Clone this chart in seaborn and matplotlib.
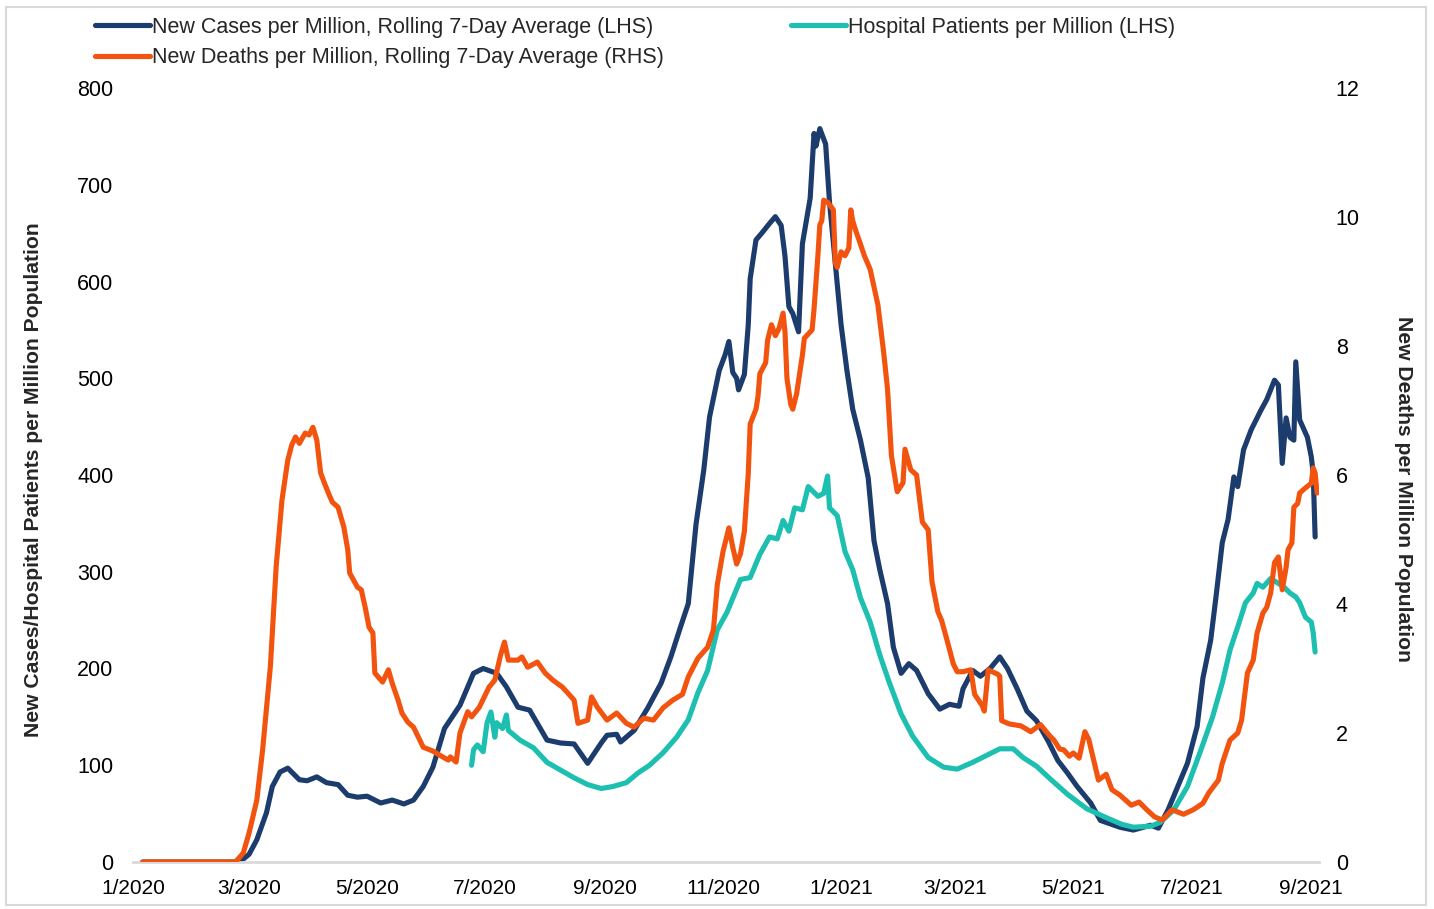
import numpy as np
import pandas as pd
import seaborn as sns
import matplotlib.pyplot as plt
import matplotlib.dates as mdates
from matplotlib.ticker import FuncFormatter, MultipleLocator
from matplotlib.patches import Rectangle

# --- dados ---
# dias contados a partir de 1/1/2020
inicio = pd.Timestamp('2020-01-01')

casos_dia = [5, 53, 57, 60, 64, 69, 72, 76, 80, 86,
             90, 95, 100, 106, 111, 116, 121, 128, 134, 140,
             145, 150, 155, 161, 165, 169, 176, 181, 188, 193,
             199, 205, 214, 221, 228, 235, 242, 245, 250, 252,
             259, 266, 273, 278, 283, 287, 291, 295, 298, 303,
             306, 308, 310, 312, 313, 316, 318, 319, 322, 325,
             329, 332, 335, 337, 339, 341, 344, 346, 350, 352,
             353, 355, 358, 360, 363, 366, 369, 372, 376, 380,
             383, 386, 390, 393, 397, 401, 405, 411, 417, 422,
             427, 429, 434, 438, 443, 448, 452, 457, 462, 467,
             473, 478, 483, 488, 495, 500, 510, 517, 526, 530,
             535, 540, 545, 550, 553, 557, 560, 563, 566, 569,
             571, 574, 578, 583, 586, 590, 592, 594, 596, 598,
             600, 601, 603, 607, 609, 610, 611]
casos = [0, 0, 3, 8, 23, 51, 78, 93, 97, 85,
         84, 88, 82, 80, 69, 67, 68, 61, 64, 60,
         64, 78, 98, 138, 150, 162, 195, 200, 195, 181,
         160, 157, 126, 123, 122, 102, 123, 131, 132, 124,
         136, 159, 185, 212, 243, 267, 349, 405, 460, 508,
         524, 538, 506, 500, 488, 504, 555, 603, 643, 650,
         660, 667, 658, 626, 574, 567, 548, 639, 686, 753,
         740, 758, 742, 682, 619, 555, 508, 468, 436, 397,
         332, 302, 267, 222, 195, 205, 198, 174, 158, 163,
         161, 179, 198, 192, 200, 212, 200, 179, 156, 146,
         125, 105, 92, 78, 61, 43, 36, 33, 38, 35,
         54, 78, 102, 140, 190, 229, 278, 330, 354, 398,
         388, 426, 447, 467, 478, 498, 493, 412, 459, 439,
         436, 517, 457, 439, 419, 402, 336]

hosp_dia = [175, 176, 178, 181, 183, 185, 187, 188, 191, 193,
            194, 200, 207, 214, 221, 228, 235, 242, 248, 255,
            261, 267, 274, 281, 287, 292, 297, 302, 307, 314,
            319, 324, 329, 333, 336, 339, 342, 346, 349, 354,
            357, 359, 360, 364, 368, 372, 376, 381, 386, 391,
            397, 403, 411, 419, 426, 434, 441, 448, 455, 460,
            467, 474, 483, 493, 504, 511, 517, 526, 531, 538,
            545, 552, 558, 563, 567, 571, 575, 579, 581, 584,
            588, 592, 595, 598, 601, 603, 606, 609, 610, 611]
hospital = [100, 116, 121, 114, 144, 155, 129, 144, 138, 152,
            136, 126, 118, 103, 95, 87, 80, 76, 78, 82,
            92, 100, 113, 129, 147, 175, 198, 240, 258, 292,
            294, 318, 336, 334, 353, 342, 366, 364, 388, 378,
            381, 399, 366, 358, 321, 302, 273, 248, 214, 185,
            153, 130, 108, 98, 96, 103, 110, 117, 117, 108,
            99, 86, 70, 55, 45, 39, 36, 37, 41, 54,
            78, 116, 150, 185, 219, 243, 268, 278, 288, 284,
            293, 288, 284, 278, 274, 268, 253, 248, 237, 217]

mortes_dia = [5, 53, 57, 60, 64, 67, 71, 74, 77, 80,
              82, 84, 86, 89, 91, 93, 95, 97, 99, 101,
              103, 106, 109, 111, 112, 116, 118, 120, 122, 124,
              125, 129, 132, 134, 137, 139, 142, 145, 150, 155,
              160, 163, 164, 167, 169, 173, 175, 179, 184, 187,
              190, 192, 194, 199, 201, 204, 209, 213, 217, 222,
              228, 230, 235, 237, 240, 245, 250, 255, 259, 264,
              269, 274, 279, 284, 287, 292, 297, 300, 302, 305,
              308, 310, 312, 314, 316, 318, 319, 322, 323, 324,
              327, 328, 330, 332, 334, 336, 337, 338, 340, 341,
              343, 346, 347, 351, 352, 354, 355, 356, 357, 359,
              362, 363, 364, 366, 368, 370, 371, 372, 374, 376,
              378, 381, 385, 388, 390, 392, 395, 398, 399, 402,
              405, 408, 411, 413, 416, 418, 421, 424, 426, 429,
              433, 435, 439, 440, 442, 447, 448, 449, 453, 459,
              464, 469, 474, 476, 479, 481, 484, 486, 489, 492,
              494, 499, 503, 506, 510, 516, 520, 524, 528, 532,
              537, 543, 548, 553, 556, 561, 563, 567, 571, 573,
              576, 579, 581, 584, 586, 588, 590, 592, 594, 596,
              597, 599, 600, 602, 603, 606, 609, 610, 611, 612]
mortes = [0, 0, 0.14, 0.45, 0.96, 1.74, 3.03, 4.58, 5.61, 6.23,
          6.46, 6.59, 6.49, 6.65, 6.62, 6.74, 6.54, 6.03, 5.87, 5.72,
          5.58, 5.50, 5.19, 4.84, 4.48, 4.26, 4.22, 3.95, 3.64, 3.55,
          2.93, 2.79, 2.98, 2.77, 2.51, 2.31, 2.17, 2.09, 1.78, 1.72,
          1.63, 1.58, 1.63, 1.55, 2.0, 2.33, 2.25, 2.40, 2.71, 2.82,
          3.21, 3.41, 3.13, 3.13, 3.18, 3.02, 3.10, 2.93, 2.82, 2.71,
          2.51, 2.15, 2.20, 2.56, 2.40, 2.20, 2.31, 2.15, 2.09, 2.23,
          2.20, 2.39, 2.51, 2.60, 2.87, 3.16, 3.33, 3.60, 4.3, 4.82,
          5.18, 4.88, 4.62, 4.78, 5.13, 6.02, 6.79, 7.02, 7.21, 7.57,
          7.74, 8.09, 8.33, 8.16, 8.28, 8.51, 8.22, 7.50, 7.09, 7.02,
          7.26, 7.86, 8.12, 8.25, 8.57, 9.40, 9.88, 9.94, 10.26, 10.23,
          10.11, 9.29, 9.22, 9.46, 9.40, 9.52, 10.11, 9.94, 9.75, 9.58,
          9.40, 9.19, 8.64, 7.9, 7.33, 6.3, 5.74, 5.88, 6.4, 6.08,
          6.00, 5.27, 5.15, 4.34, 3.88, 3.74, 3.41, 3.07, 2.95, 2.95,
          2.98, 2.60, 2.42, 2.34, 2.98, 2.91, 2.88, 2.19, 2.14, 2.11,
          2.02, 2.13, 1.95, 1.89, 1.75, 1.74, 1.64, 1.69, 1.61, 2.02,
          1.9, 1.27, 1.36, 1.12, 1.04, 0.88, 0.93, 0.81, 0.70, 0.65,
          0.81, 0.74, 0.81, 0.91, 1.07, 1.27, 1.53, 1.89, 2.00, 2.20,
          2.93, 3.13, 3.55, 3.86, 3.95, 4.17, 4.64, 4.73, 4.22, 4.57,
          4.84, 4.95, 5.50, 5.56, 5.72, 5.80, 5.87, 6.11, 6.03, 5.72]

rotulo_casos = 'New Cases per Million, Rolling 7-Day Average (LHS)'
rotulo_mortes = 'New Deaths per Million, Rolling 7-Day Average (RHS)'
rotulo_hosp = 'Hospital Patients per Million (LHS)'

df_casos = pd.DataFrame({'data': inicio + pd.to_timedelta(casos_dia, unit='D'), 'valor': casos})
df_hosp = pd.DataFrame({'data': inicio + pd.to_timedelta(hosp_dia, unit='D'), 'valor': hospital})
df_mortes = pd.DataFrame({'data': inicio + pd.to_timedelta(mortes_dia, unit='D'), 'valor': mortes})

# --- estilo ---
sns.set_theme(style='white')
plt.rcParams['font.family'] = ['Liberation Sans', 'DejaVu Sans']

cor_casos = '#1b3c6c'
cor_hosp = '#1cbfb0'
cor_mortes = '#f2540f'
cinza = '#d9d9d9'

fig, ax = plt.subplots(figsize=(14.34, 9.09), dpi=100)
ax.set_position([133 / 1434, 1 - 862 / 909, (1319 - 133) / 1434, (862 - 88) / 909])
ax2 = ax.twinx()
ax2.set_position(ax.get_position())

sns.lineplot(data=df_casos, x='data', y='valor', ax=ax, color=cor_casos, linewidth=3.7,
             estimator=None, label=rotulo_casos, legend=False)
sns.lineplot(data=df_hosp, x='data', y='valor', ax=ax, color=cor_hosp, linewidth=3.7,
             estimator=None, label=rotulo_hosp, legend=False)
sns.lineplot(data=df_mortes, x='data', y='valor', ax=ax2, color=cor_mortes, linewidth=3.7,
             estimator=None, label=rotulo_mortes, legend=False)

# eixos
ax.set_xlim(inicio, inicio + pd.Timedelta(days=613))
ax.set_ylim(0, 800)
ax2.set_ylim(0, 12)
ax.yaxis.set_major_locator(MultipleLocator(100))
ax2.yaxis.set_major_locator(MultipleLocator(2))
ax.xaxis.set_major_locator(mdates.MonthLocator(bymonth=[1, 3, 5, 7, 9, 11]))
ax.xaxis.set_major_formatter(FuncFormatter(lambda v, p: f"{mdates.num2date(v).month}/{mdates.num2date(v).year}"))

ax.set_xlabel('')
ax.set_ylabel('')
ax2.set_ylabel('')

for a in (ax, ax2):
    for lado in ['top', 'left', 'right', 'bottom']:
        a.spines[lado].set_visible(False)
    a.grid(False)
ax.spines['bottom'].set_visible(True)
ax.spines['bottom'].set_color(cinza)
ax.spines['bottom'].set_linewidth(2)

ax.tick_params(axis='x', length=0, pad=12, labelsize=15, labelcolor='black')
ax.tick_params(axis='y', length=0, pad=14, labelsize=15.5, labelcolor='black')
ax2.tick_params(axis='y', length=0, pad=12, labelsize=15.5, labelcolor='black')

fig.text(34 / 1434, 1 - 480 / 909, 'New Cases/Hospital Patients per Million Population',
         rotation=90, ha='center', va='center', fontsize=15.2, fontweight='bold')
fig.text(1403 / 1434, 1 - 489 / 909, 'New Deaths per Million Population',
         rotation=270, ha='center', va='center', fontsize=15.2, fontweight='bold')

# legenda
h1, l1 = ax.get_legend_handles_labels()
h2, l2 = ax2.get_legend_handles_labels()
handles = [h1[0], h2[0], h1[1]]
labels = [l1[0], l2[0], l1[1]]
fig.legend(handles, labels, ncol=2, loc='upper left', bbox_to_anchor=(95 / 1434, 1 - 17 / 909),
           frameon=False, fontsize=15.5, handlelength=2.55, handletextpad=0.1,
           columnspacing=5.9, labelspacing=0.42, borderpad=0, borderaxespad=0)

# moldura cinza do gráfico
fig.patches.append(Rectangle((6 / 1434, 4 / 909), 1420 / 1434, 898 / 909, transform=fig.transFigure,
                             fill=False, edgecolor=cinza, linewidth=1.5))

fig.savefig('out.png', dpi=100)
